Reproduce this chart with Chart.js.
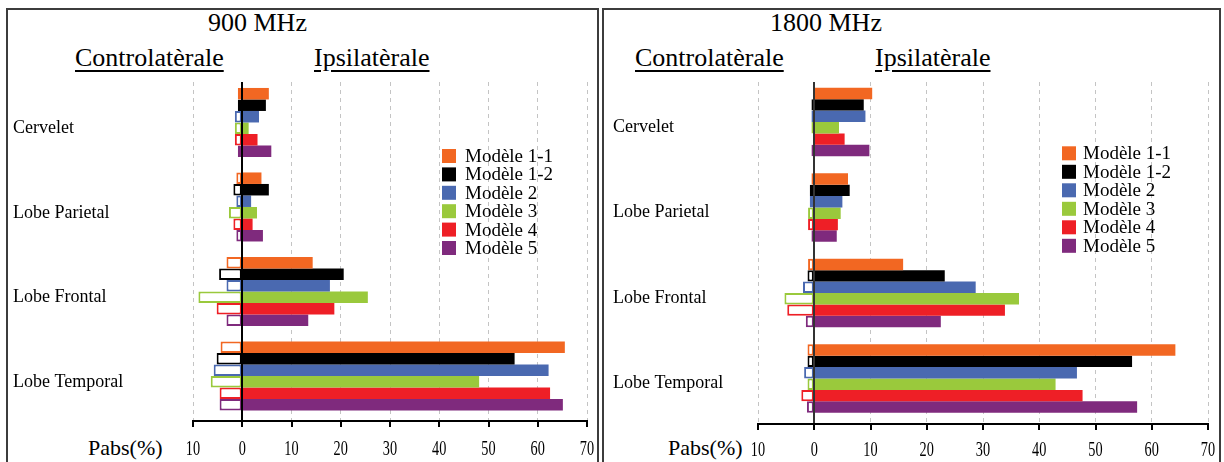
<!DOCTYPE html>
<html>
<head>
<meta charset="utf-8">
<script src="https://cdn.jsdelivr.net/npm/chart.js@4.4.1/dist/chart.umd.min.js"></script>
<style>
  html, body { margin: 0; padding: 0; background: #fff; }
  body { width: 1224px; height: 462px; overflow: hidden; position: relative; font-family: 'Liberation Serif', 'Times New Roman', serif; color: #000; }
  .frame { position: absolute; top: 8px; height: 470px; border: 2px solid #3c3c3c; box-sizing: border-box; }
  .lbl { position: absolute; white-space: nowrap; line-height: 1; }
  .title { font-size: 26px; }
  .side { font-size: 26px; text-decoration: underline; text-decoration-thickness: 1.5px; text-underline-offset: 4px; }
  .unit { font-size: 22px; }
  canvas { position: absolute; top: 0; }
</style>
</head>
<body>

<div class="frame" style="left:6px;width:593px;"></div>
<div class="frame" style="left:602px;width:619px;"></div>

<div class="lbl title" style="left:208px;top:10px;">900 MHz</div>
<div class="lbl side" style="left:75px;top:45px;">Controlatèrale</div>
<div class="lbl side" style="left:314px;top:45px;">Ipsilatèrale</div>
<div class="lbl unit" style="left:88px;top:437px;">Pabs(%)</div>

<div class="lbl title" style="left:770px;top:10px;">1800 MHz</div>
<div class="lbl side" style="left:635px;top:45px;">Controlatèrale</div>
<div class="lbl side" style="left:875px;top:45px;">Ipsilatèrale</div>
<div class="lbl unit" style="left:668px;top:437px;">Pabs(%)</div>

<canvas id="c900" width="587" height="462" style="left:9px;"></canvas>
<canvas id="c1800" width="613" height="462" style="left:605px;"></canvas>

<script>
// Brain regions (one bar group each, top to bottom)
const categories = ['Cervelet', 'Lobe Parietal', 'Lobe Frontal', 'Lobe Temporal'];

// Head models
const models = ['Modèle 1-1', 'Modèle 1-2', 'Modèle 2', 'Modèle 3', 'Modèle 4', 'Modèle 5'];
const modelColors = ['#F26722', '#000000', '#4A69B0', '#9AC93C', '#EE1F26', '#7F2A7D'];

// Absorbed power share (%) on the exposed side, per model, per region
const ipsi900 = [
  [5.4, 3.9, 14.3, 65.5],
  [4.8, 5.4, 20.6, 55.3],
  [3.4, 1.8, 17.8, 62.2],
  [1.3, 3.0, 25.5, 48.1],
  [3.1, 2.1, 18.7, 62.5],
  [5.9, 4.2, 13.4, 65.1]
];
// Absorbed power share (%) on the opposite side (plotted to the left of 0)
const contra900 = [
  [0.9, 1.2, 3.2, 4.4],
  [0.9, 1.8, 4.7, 5.2],
  [1.5, 1.2, 3.2, 5.8],
  [1.5, 2.7, 8.9, 6.4],
  [1.5, 1.8, 5.2, 4.6],
  [0.9, 1.2, 3.2, 4.6]
];

const ipsi1800 = [
  [10.3, 6.0, 15.8, 64.2],
  [8.8, 6.3, 23.2, 56.5],
  [9.1, 5.0, 28.7, 46.7],
  [4.4, 4.7, 36.4, 42.9],
  [5.4, 4.2, 33.9, 47.7],
  [9.8, 4.0, 22.5, 57.4]
];
const contra1800 = [
  [0.1, 0.5, 1.1, 1.2],
  [0.5, 0.8, 1.2, 1.2],
  [0.5, 0.8, 2.0, 1.8],
  [0.5, 1.1, 5.3, 1.2],
  [0.1, 1.1, 4.8, 2.3],
  [0.5, 0.5, 1.5, 1.3]
];

// Value axis ticks (left of 0 is the contralateral side)
const xTickValues = [-10, 0, 10, 20, 30, 40, 50, 60, 70];

const SERIF = "'Liberation Serif', 'Times New Roman', serif";

function buildDatasets(ipsi, contra) {
  const sets = [];
  models.forEach((name, m) => {
    sets.push({
      label: name, side: 'ipsi', stack: 'm' + m,
      data: categories.map((c, i) => ({ x: ipsi[m][i], y: i })),
      backgroundColor: modelColors[m], borderWidth: 0
    });
    sets.push({
      label: name, side: 'contra', stack: 'm' + m,
      data: categories.map((c, i) => ({ x: -contra[m][i], y: i })),
      backgroundColor: '#ffffff', borderColor: modelColors[m], borderWidth: 2, borderSkipped: false
    });
  });
  return sets;
}

// Solid zero line over the bars, then the value axis line with downward tick marks
const axisLines = {
  id: 'axisLines',
  afterDraw(chart, args, opts) {
    const { ctx, chartArea, scales } = chart;
    const xs = scales.x;
    const x0 = Math.round(xs.getPixelForValue(0));
    const yb = Math.round(chartArea.bottom);
    const xl = Math.round(xs.getPixelForValue(xTickValues[0]));
    const xr = Math.round(xs.getPixelForValue(xTickValues[xTickValues.length - 1]));
    ctx.save();
    ctx.fillStyle = opts.color;
    ctx.fillRect(x0 - 1, Math.round(chartArea.top), 2, yb - Math.round(chartArea.top));
    ctx.fillStyle = '#000000';
    ctx.fillRect(xl - 1, yb - 1, xr - xl + 2, 2);
    xTickValues.forEach(v => {
      const px = Math.round(xs.getPixelForValue(v));
      ctx.fillRect(px - 1, yb, 2, 6);
    });
    ctx.restore();
  }
};

// Narrow serif tick labels under the value axis, absolute values
const valueLabels = {
  id: 'valueLabels',
  afterDraw(chart, args, opts) {
    const { ctx, chartArea, scales } = chart;
    ctx.save();
    ctx.fillStyle = '#000';
    ctx.font = opts.size + 'px ' + SERIF;
    ctx.textAlign = 'center';
    ctx.textBaseline = 'middle';
    xTickValues.forEach(v => {
      const px = scales.x.getPixelForValue(v);
      ctx.save();
      ctx.translate(px, chartArea.bottom + opts.offset);
      ctx.scale(opts.squeeze, 1);
      ctx.fillText(String(Math.abs(v)), 0, 0);
      ctx.restore();
    });
    ctx.restore();
  }
};

// Legend box inside the plot: one entry per model
const boxLegend = {
  id: 'boxLegend',
  afterDraw(chart, args, opts) {
    const { ctx } = chart;
    ctx.save();
    ctx.font = opts.size + 'px ' + SERIF;
    ctx.textBaseline = 'middle';
    ctx.textAlign = 'left';
    chart.data.datasets.filter(d => d.side === 'ipsi').forEach((d, k) => {
      const cy = opts.y + k * opts.step;
      ctx.fillStyle = d.backgroundColor;
      ctx.fillRect(opts.boxX, cy - 7, 14, 14);
      ctx.fillStyle = '#000';
      ctx.fillText(d.label, opts.textX, cy + 1);
    });
    ctx.restore();
  }
};

function makeChart(id, ipsi, contra, geo) {
  return new Chart(document.getElementById(id), {
    type: 'bar',
    data: { datasets: buildDatasets(ipsi, contra) },
    plugins: [axisLines, valueLabels, boxLegend],
    options: {
      indexAxis: 'y', responsive: false, animation: false, devicePixelRatio: 1,
      categoryPercentage: geo.catPct, barPercentage: 1,
      layout: { padding: { left: geo.padLeft, right: geo.padRight, top: geo.top, bottom: 0 } },
      plugins: {
        legend: { display: false }, tooltip: { enabled: false },
        axisLines: { color: geo.zeroColor },
        valueLabels: { size: 21, squeeze: 0.68, offset: geo.labelOffset },
        boxLegend: geo.legend
      },
      scales: {
        x: {
          type: 'linear', min: -10, max: 70,
          afterBuildTicks: s => { s.ticks = xTickValues.map(v => ({ value: v })); },
          afterFit: s => { s.height = geo.xHeight; },
          ticks: { display: false },
          grid: { color: '#c4c4c4', lineWidth: 1, drawTicks: false },
          border: { display: false, dash: [4, 4] }
        },
        y: {
          type: 'linear', offset: false, reverse: true, min: geo.yMin, max: geo.yMax,
          afterBuildTicks: s => { s.ticks = categories.map((c, i) => ({ value: i })); },
          afterFit: s => { s.width = geo.yWidth; },
          grid: { display: false, offset: false },
          border: { display: false },
          ticks: { crossAlign: 'far', labelOffset: geo.catLabelOffset, color: '#000',
            font: { family: SERIF, size: 18 }, callback: v => categories[v] ?? '' }
        }
      }
    }
  });
}

makeChart('c900', ipsi900, contra900, {
  padLeft: 4, padRight: 9, top: 82, yWidth: 180, xHeight: 41,
  yMin: -0.479, yMax: 3.533, catPct: 0.817, catLabelOffset: 6,
  labelOffset: 28, zeroColor: '#000',
  legend: { boxX: 433, textX: 456, y: 156, step: 18.4, size: 19 }
});

makeChart('c1800', ipsi1800, contra1800, {
  padLeft: 8, padRight: 10, top: 82, yWidth: 145, xHeight: 38.5,
  yMin: -0.468, yMax: 3.526, catPct: 0.80, catLabelOffset: 5,
  labelOffset: 26.5, zeroColor: '#333',
  legend: { boxX: 457, textX: 478, y: 153.3, step: 18.5, size: 19 }
});
</script>
</body>
</html>
